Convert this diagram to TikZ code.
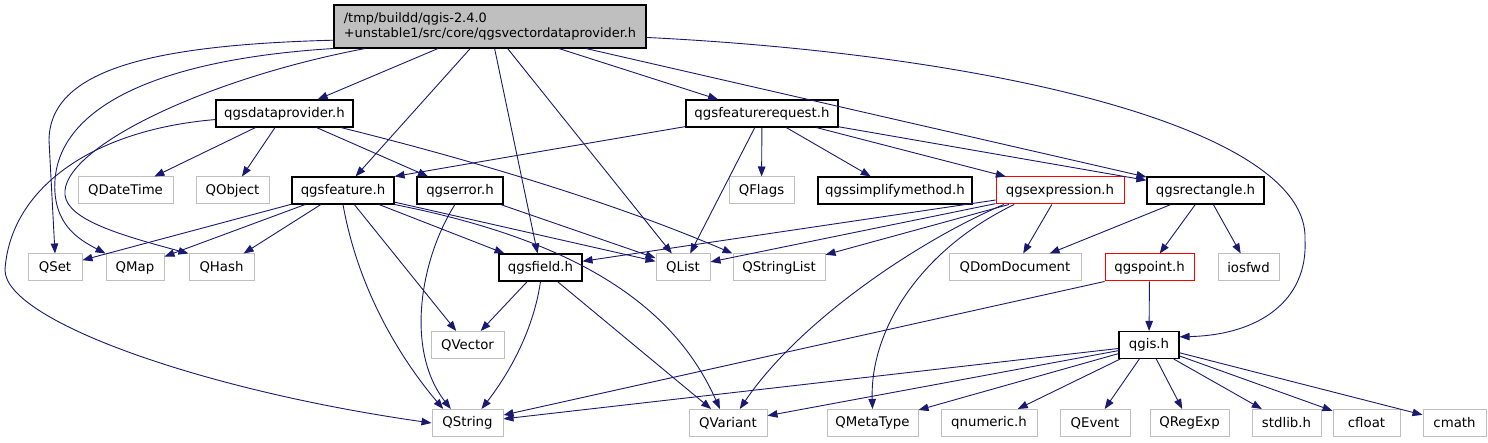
\documentclass[tikz,border=0pt]{standalone}
\usepackage{fontspec}
\setmainfont{DejaVu Sans}
\usetikzlibrary{arrows.meta}

\definecolor{depblue}{HTML}{191970}
\definecolor{lightgrey}{HTML}{BFBFBF}

\tikzset{
  basebox/.style={rectangle, minimum height=27pt, inner xsep=4pt, inner ysep=2pt,
    font=\fontsize{13.3}{15}\selectfont, fill=white},
  hdrbox/.style={basebox, draw=black, line width=1.1pt, minimum width=#1},
  qtbox/.style={basebox, draw=lightgrey, line width=1pt, minimum width=#1},
  redbox/.style={basebox, draw=red, line width=1pt, minimum width=#1},
  rootbox/.style={basebox, draw=black, line width=1.1pt, fill=lightgrey, align=left,
    font=\fontsize{12.9}{15}\selectfont, minimum width=312pt, minimum height=43pt},
  dep/.style={draw=depblue, line width=0.9pt, -{Triangle[length=10pt,width=7.5pt]}}
}

\begin{document}
\begin{tikzpicture}[x=1pt,y=-1pt]
    \useasboundingbox (0,0) rectangle (1488,443);

    \node[rootbox] (root) at (490,26.5) {/tmp/buildd/qgis-2.4.0\\+unstable1/src/core/qgsvectordataprovider.h};

    \node[hdrbox=137pt] (dataprov) at (284.5,113.5) {qgsdataprovider.h};
    \node[hdrbox=152pt] (featreq) at (762,113.5) {qgsfeaturerequest.h};

    \node[qtbox=95pt] (datetime) at (125.5,190.5) {QDateTime};
    \node[qtbox=73pt] (object) at (232.5,190.5) {QObject};
    \node[hdrbox=102pt] (feature) at (343,190.5) {qgsfeature.h};
    \node[hdrbox=86pt] (error) at (460,190.5) {qgserror.h};
    \node[qtbox=65pt] (flags) at (761.5,190.5) {QFlags};
    \node[hdrbox=154pt] (simplify) at (895,190.5) {qgssimplifymethod.h};
    \node[redbox=128pt] (expression) at (1060,190.5) {qgsexpression.h};
    \node[hdrbox=117pt] (rectangle) at (1205.5,190.5) {qgsrectangle.h};

    \node[qtbox=54pt] (qset) at (55,267.5) {QSet};
    \node[qtbox=58pt] (qmap) at (135,267.5) {QMap};
    \node[qtbox=65pt] (qhash) at (221.5,267.5) {QHash};
    \node[hdrbox=83pt] (field) at (540.5,267.5) {qgsfield.h};
    \node[qtbox=54pt] (qlist) at (683,267.5) {QList};
    \node[qtbox=92pt] (stringlist) at (779,267.5) {QStringList};
    \node[qtbox=132pt] (domdoc) at (1015,267.5) {QDomDocument};
    \node[redbox=89pt] (point) at (1149.5,267.5) {qgspoint.h};
    \node[qtbox=61pt] (iosfwd) at (1248.5,267.5) {iosfwd};

    \node[qtbox=73pt] (vector) at (467.5,345) {QVector};
    \node[hdrbox=60pt] (qgis) at (1149,345) {qgis.h};

    \node[qtbox=71pt] (qstring) at (467.5,423) {QString};
    \node[qtbox=78pt] (variant) at (728,423) {QVariant};
    \node[qtbox=91pt] (metatype) at (872.5,423) {QMetaType};
    \node[qtbox=96pt] (numeric) at (989,423) {qnumeric.h};
    \node[qtbox=70pt] (event) at (1095,423) {QEvent};
    \node[qtbox=79pt] (regexp) at (1189.5,423) {QRegExp};
    \node[qtbox=69pt] (stdlib) at (1286.5,423) {stdlib.h};
    \node[qtbox=67pt] (cfloat) at (1366.5,423) {cfloat};
    \node[qtbox=63pt] (cmath) at (1454.5,423) {cmath};

    % qgsvectordataprovider.h
    \draw[dep] (root.185) .. controls (150,45) and (50,70) .. (49,140) -- (qset.north);
    \draw[dep] (root.188) .. controls (150,60) and (60,110) .. (55,180) .. controls (52,225) and (80,240) .. (qmap.north west);
    \draw[dep] (root.190) .. controls (200,80) and (60,150) .. (65,195) .. controls (68,220) and (120,235) .. (qhash.north west);
    \draw[dep] (root) -- (dataprov);
    \draw[dep] (root) -- (feature);
    \draw[dep] (root) -- (field);
    \draw[dep] (root) -- (qlist);
    \draw[dep] (root) -- (featreq);
    \draw[dep] (root) -- (rectangle);
    \draw[dep] (root.356) .. controls (1000,55) and (1310,130) .. (1305,240) .. controls (1308,300) and (1260,335) .. (qgis.15);

    % qgsdataprovider.h
    \draw[dep] (dataprov) -- (datetime);
    \draw[dep] (dataprov) -- (object);
    \draw[dep] (dataprov) -- (error);
    \draw[dep] (dataprov.346) .. controls (480,162) and (620,205) .. (stringlist.north west);
    \draw[dep] (dataprov.185) .. controls (90,130) and (10,190) .. (5,270) .. controls (5,320) and (200,390) .. (qstring.west);

    % qgsfeaturerequest.h
    \draw[dep] (featreq) -- (feature.north east);
    \draw[dep] (featreq) -- (qlist);
    \draw[dep] (featreq) -- (flags);
    \draw[dep] (featreq) -- (simplify);
    \draw[dep] (featreq) -- (expression);
    \draw[dep] (featreq) -- (rectangle);

    % qgsfeature.h
    \draw[dep] (feature) -- (qset);
    \draw[dep] (feature) -- (qmap);
    \draw[dep] (feature) -- (qhash);
    \draw[dep] (feature) -- (field);
    \draw[dep] (feature) -- (qlist);
    \draw[dep] (feature) -- (vector);
    \draw[dep] (feature.south) .. controls (360,300) and (410,370) .. (qstring.150);
    \draw[dep] (feature.south east) .. controls (600,245) and (680,320) .. (variant.120);

    % qgserror.h
    \draw[dep] (error) -- (qlist);
    \draw[dep] (error.250) .. controls (420,260) and (405,350) .. (qstring.140);

    % qgsfield.h
    \draw[dep] (field) -- (vector);
    \draw[dep] (field) -- (variant);
    \draw[dep] (field.south) .. controls (532,340) and (500,385) .. (qstring.45);

    % qgsexpression.h
    \draw[dep] (expression) -- (field);
    \draw[dep] (expression) -- (qlist);
    \draw[dep] (expression) -- (stringlist);
    \draw[dep] (expression) -- (domdoc);
    \draw[dep] (expression.197) .. controls (920,250) and (870,330) .. (metatype.north);
    \draw[dep] (expression.194) .. controls (920,240) and (800,320) .. (variant.50);

    % qgsrectangle.h
    \draw[dep] (rectangle) -- (domdoc);
    \draw[dep] (rectangle) -- (point);
    \draw[dep] (rectangle) -- (iosfwd);

    % qgspoint.h
    \draw[dep] (point) -- (qgis);
    \draw[dep] (point.south west) -- (qstring);

    % qgis.h
    \draw[dep] (qgis) -- (qstring);
    \draw[dep] (qgis) -- (variant);
    \draw[dep] (qgis) -- (metatype);
    \draw[dep] (qgis) -- (numeric);
    \draw[dep] (qgis) -- (event);
    \draw[dep] (qgis) -- (regexp);
    \draw[dep] (qgis) -- (stdlib);
    \draw[dep] (qgis) -- (cfloat);
    \draw[dep] (qgis) -- (cmath);
\end{tikzpicture}
\end{document}
